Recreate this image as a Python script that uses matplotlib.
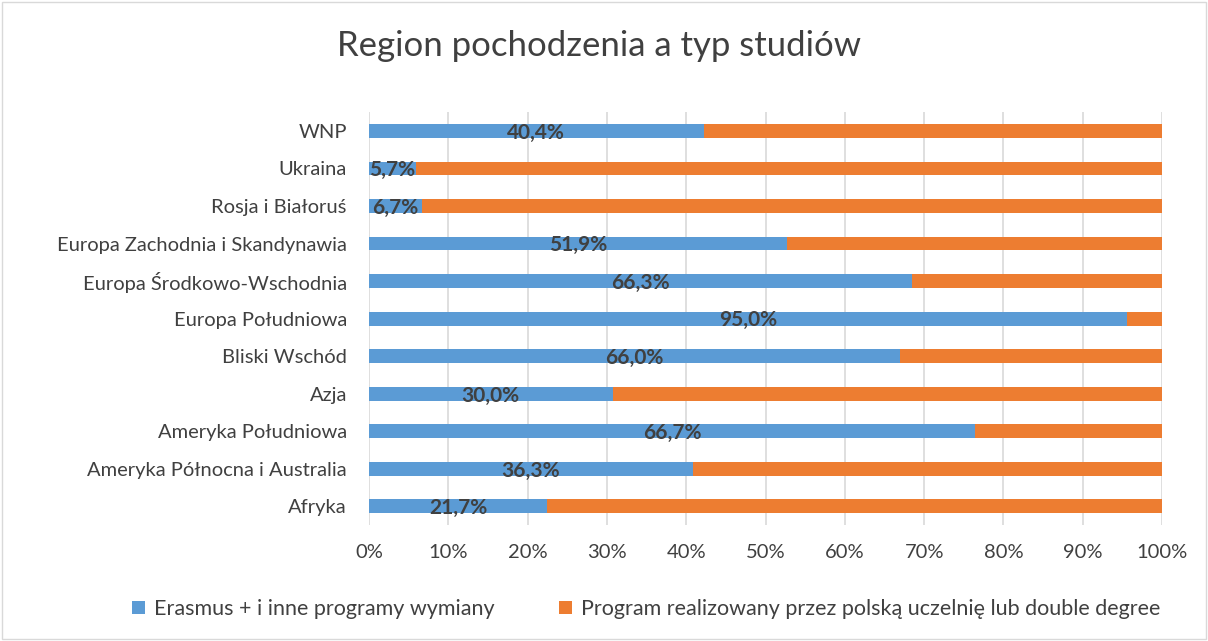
import matplotlib
matplotlib.use("Agg")
import matplotlib.pyplot as plt
from matplotlib.patches import Rectangle
from matplotlib.ticker import PercentFormatter

categories = ["Afryka", "Ameryka Północna i Australia", "Ameryka Południowa", "Azja",
              "Bliski Wschód", "Europa Południowa", "Europa Środkowo-Wschodnia",
              "Europa Zachodnia i Skandynawia", "Rosja i Białoruś", "Ukraina", "WNP"]
erasmus = [22.5, 40.8, 76.4, 30.7, 67.0, 95.6, 68.5, 52.7, 6.7, 5.9, 42.2]
label_text = ["21,7%", "36,3%", "66,7%", "30,0%", "66,0%", "95,0%", "66,3%",
              "51,9%", "6,7%", "5,7%", "40,4%"]
program = [100 - v for v in erasmus]
series_names = ["Erasmus + i inne programy wymiany",
                "Program realizowany przez polską uczelnię lub double degree"]

plt.rcParams['font.family'] = ['Lato', 'DejaVu Sans']

fig = plt.figure(figsize=(12.08, 6.41), dpi=100)
fig.patches.append(Rectangle((0.002, 0.003), 0.996, 0.994, transform=fig.transFigure,
                             fill=False, edgecolor='#d9d9d9', linewidth=1))
ax = fig.add_axes([0.3055, 0.181, 0.6565, 0.644])

blue = '#5b9bd5'
orange = '#ed7d31'
y = list(range(len(categories)))
ax.barh(y, erasmus, height=0.37, color=blue, label=series_names[0], zorder=3)
ax.barh(y, program, left=erasmus, height=0.37, color=orange, label=series_names[1], zorder=3)

for yi, v, t in zip(y, erasmus, label_text):
    ax.text(v / 2, yi - 0.05, t, ha='center', va='center', fontsize=15, fontweight='bold',
            color='#404040', zorder=4)

ax.set_xlim(0, 100)
ax.set_ylim(-0.5, len(categories) - 0.5)
ax.set_yticks(y)
ax.set_yticklabels(categories, fontsize=14.5, color='#404040')
ax.set_xticks(range(0, 101, 10))
ax.xaxis.set_major_formatter(PercentFormatter(decimals=0))
ax.tick_params(axis='x', labelsize=14.5, colors='#404040', length=0, pad=14)
ax.tick_params(axis='y', length=0, pad=16)
ax.grid(axis='x', color='#d9d9d9', linewidth=1.2, zorder=0)
for s in ax.spines.values():
    s.set_visible(False)

fig.text(0.496, 0.928, "Region pochodzenia a typ studiów", ha='center', va='center',
         fontsize=25, color='#404040')

fig.legend(loc='center', bbox_to_anchor=(0.535, 0.05), ncol=2, frameon=False,
           fontsize=15.5, handlelength=0.6, handleheight=0.6, columnspacing=3.0,
           handletextpad=0.4, labelcolor='#404040')

fig.savefig("out.png", dpi=100, facecolor='white')
